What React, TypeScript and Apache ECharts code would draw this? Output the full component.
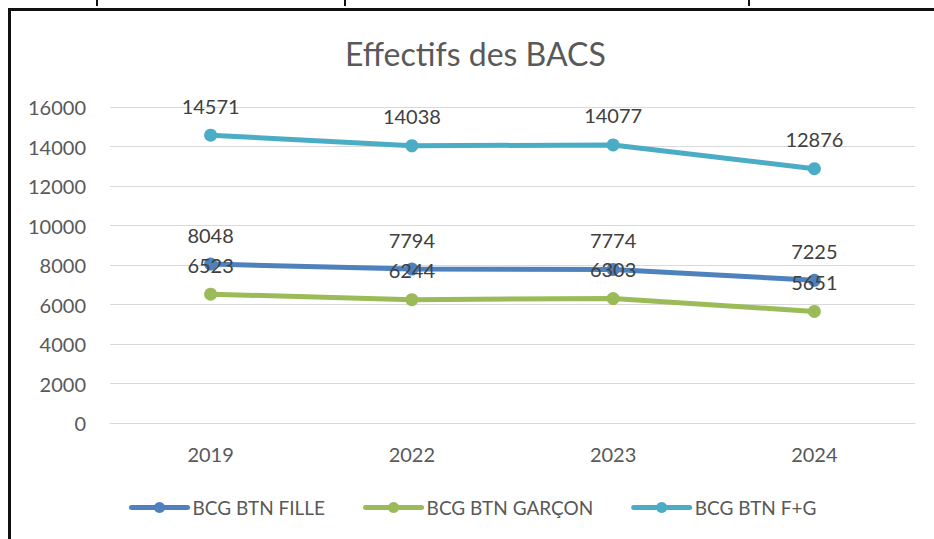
import React, { useEffect, useRef } from "react";
import * as echarts from "echarts";

const categories = ["2019", "2022", "2023", "2024"];
const fille = [8048, 7794, 7774, 7225];
const garcon = [6523, 6244, 6303, 5651];
const total = [14571, 14038, 14077, 12876];
const seriesNames = ["BCG BTN FILLE", "BCG BTN GARÇON", "BCG BTN F+G"];
const colors = ["#4F81BD", "#9BBB59", "#4BACC6"];
const title = "Effectifs des BACS";

const FONT = "Lato";

export default function App() {
  const ref = useRef<HTMLDivElement>(null);
  useEffect(() => {
    if (!ref.current) return;
    const chart = echarts.init(ref.current, undefined, { renderer: "svg" });
    const mk = (name: string, data: number[], color: string) => ({
      name,
      type: "line",
      data,
      color,
      symbol: "circle",
      symbolSize: 13,
      lineStyle: { width: 5, color, cap: "round" },
      itemStyle: { color },
      label: {
        show: true,
        position: "top",
        distance: 13,
        fontFamily: FONT,
        fontSize: 20,
        color: "#404040",
      },
    });
    chart.setOption({
      animation: false,
      textStyle: { fontFamily: FONT },
      title: {
        text: title,
        left: 340,
        top: 32,
        textStyle: { fontFamily: FONT, fontSize: 32, fontWeight: "normal", color: "#595959" },
      },
      grid: { left: 110, right: 19, top: 107, bottom: 116 },
      legend: {
        bottom: 22,
        left: 129,
        padding: 0,
        itemWidth: 56,
        itemHeight: 14,
        itemGap: 38,
        lineStyle: { width: 5, cap: "round" },
        textStyle: { fontFamily: FONT, fontSize: 19, color: "#595959" },
        data: seriesNames,
      },
      xAxis: {
        type: "category",
        data: categories,
        boundaryGap: true,
        axisLine: { show: true, lineStyle: { color: "#d9d9d9", width: 1 } },
        axisTick: { show: false },
        axisLabel: { fontFamily: FONT, fontSize: 20, color: "#595959", margin: 21 },
      },
      yAxis: {
        type: "value",
        min: 0,
        max: 16000,
        interval: 2000,
        axisLine: { show: false },
        axisTick: { show: false },
        splitLine: { lineStyle: { color: "#d9d9d9", width: 1 } },
        axisLabel: {
          fontFamily: FONT,
          fontSize: 20,
          color: "#595959",
          margin: 24,
          formatter: (v: number) => String(v),
        },
      },
      graphic: [
        { type: "line", shape: { x1: 9.5, y1: 8, x2: 9.5, y2: 539 }, style: { stroke: "#111", lineWidth: 3 } },
        { type: "line", shape: { x1: 8, y1: 9.5, x2: 934, y2: 9.5 }, style: { stroke: "#111", lineWidth: 3 } },
        { type: "rect", shape: { x: 96, y: 0, width: 2, height: 6 }, style: { fill: "#111" } },
        { type: "rect", shape: { x: 344, y: 0, width: 2, height: 6 }, style: { fill: "#111" } },
        { type: "rect", shape: { x: 748, y: 0, width: 2, height: 6 }, style: { fill: "#111" } },
      ],
      series: [
        mk(seriesNames[0], fille, colors[0]),
        mk(seriesNames[1], garcon, colors[1]),
        mk(seriesNames[2], total, colors[2]),
      ],
    });
    return () => chart.dispose();
  }, []);
  return (
    <div style={{ position: "fixed", left: 0, top: 0, width: 934, height: 539, overflow: "hidden", background: "#fff" }}>
      <div ref={ref} style={{ width: 934, height: 539 }} />
    </div>
  );
}
